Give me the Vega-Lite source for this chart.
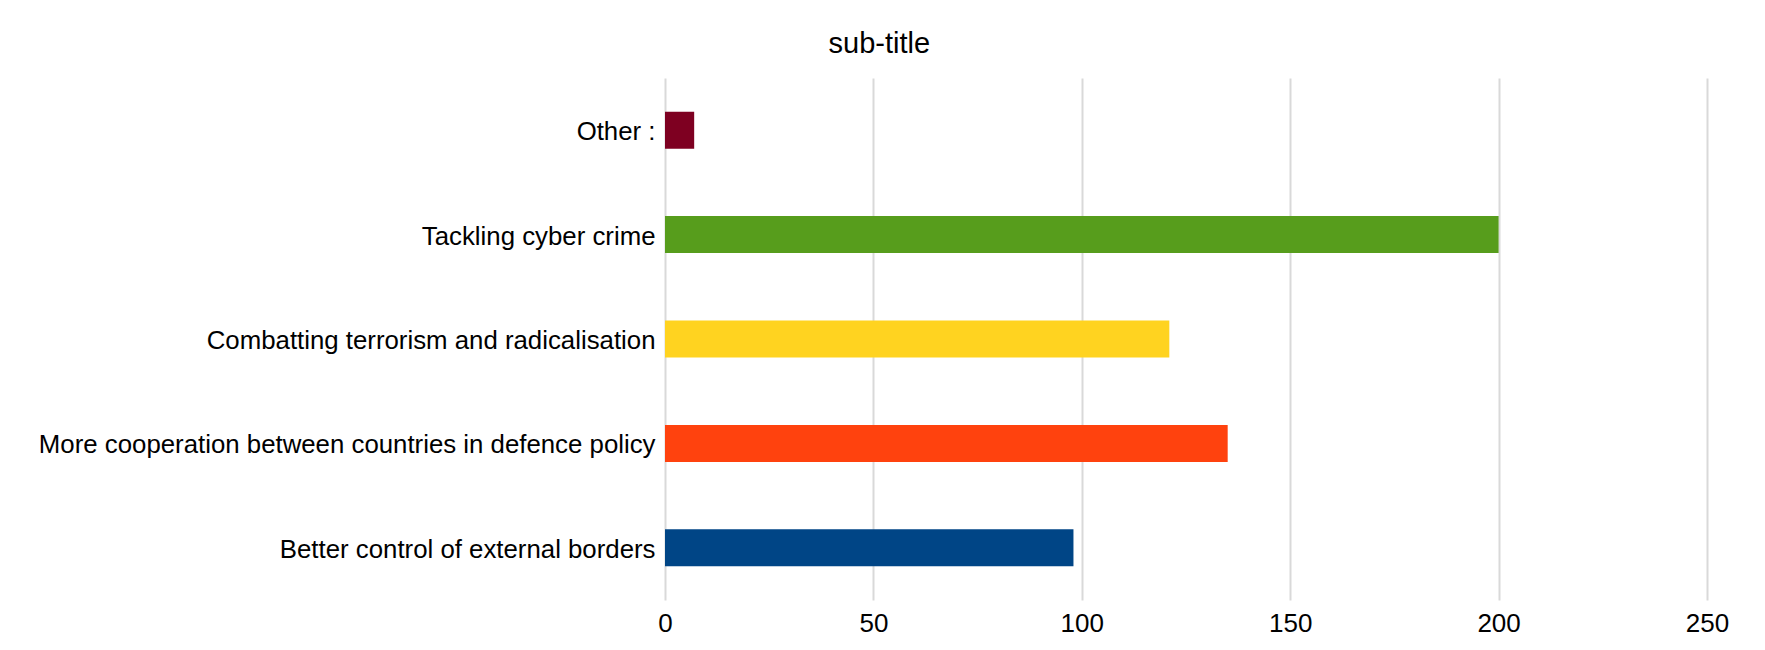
{
  "$schema": "https://vega.github.io/schema/vega-lite/v6.json",
  "width": 1042,
  "height": 522,
  "padding": {"left": 30, "top": 30, "right": 30, "bottom": 10},
  "background": "white",
  "title": {
    "text": "sub-title",
    "font": "Liberation Sans",
    "fontSize": 29,
    "fontWeight": "normal",
    "color": "#000000",
    "anchor": "middle",
    "frame": "bounds",
    "offset": 19
  },
  "data": {
    "values": [
      {"category": "Other :", "value": 7},
      {"category": "Tackling cyber crime", "value": 200},
      {"category": "Combatting terrorism and radicalisation", "value": 121},
      {"category": "More cooperation between countries in defence policy", "value": 135},
      {"category": "Better control of external borders", "value": 98}
    ]
  },
  "mark": {"type": "bar"},
  "encoding": {
    "y": {
      "field": "category",
      "type": "nominal",
      "sort": ["Other :", "Tackling cyber crime", "Combatting terrorism and radicalisation", "More cooperation between countries in defence policy", "Better control of external borders"],
      "scale": {"paddingInner": 0.646, "paddingOuter": 0.323},
      "axis": {
        "title": null,
        "ticks": false,
        "domain": false,
        "labelFont": "Liberation Sans",
        "labelFontSize": 25.8,
        "labelColor": "#000000",
        "labelPadding": 10,
        "labelOffset": 2,
        "labelLimit": 1000,
        "minExtent": 635,
        "maxExtent": 635
      }
    },
    "x": {
      "field": "value",
      "type": "quantitative",
      "scale": {"domain": [0, 250], "nice": false},
      "axis": {
        "title": null,
        "values": [0, 50, 100, 150, 200, 250],
        "ticks": false,
        "domain": false,
        "grid": true,
        "gridColor": "#d9d9d9",
        "gridWidth": 2,
        "labelFont": "Liberation Sans",
        "labelFontSize": 26,
        "labelColor": "#000000",
        "labelPadding": 10,
        "labelFlush": false
      }
    },
    "color": {
      "field": "category",
      "type": "nominal",
      "scale": {
        "domain": ["Other :", "Tackling cyber crime", "Combatting terrorism and radicalisation", "More cooperation between countries in defence policy", "Better control of external borders"],
        "range": ["#7e0021", "#579d1c", "#ffd320", "#ff420e", "#004586"]
      },
      "legend": null
    }
  },
  "config": {
    "view": {"stroke": null}
  }
}
